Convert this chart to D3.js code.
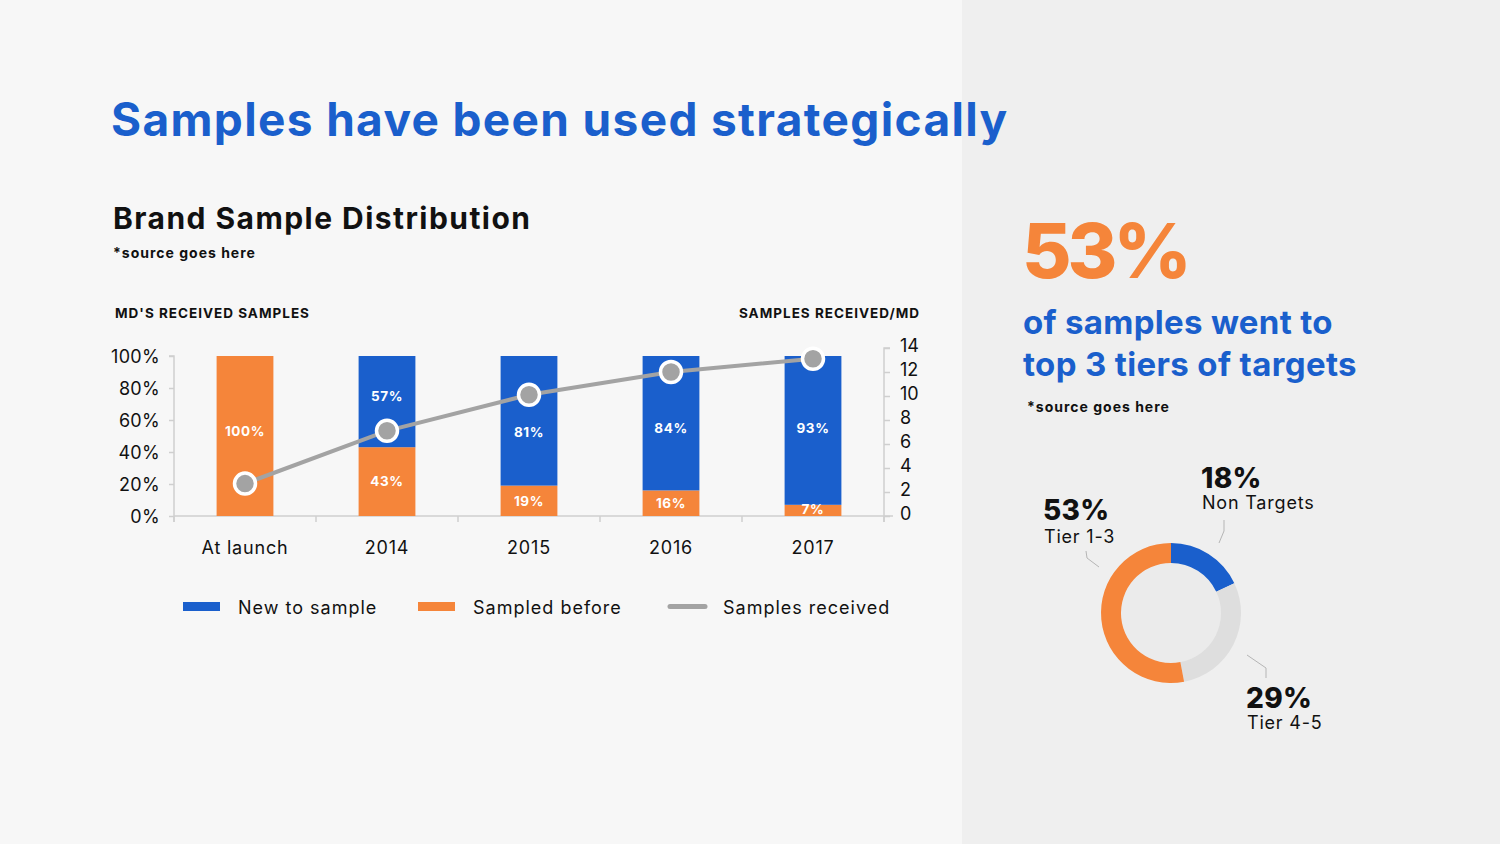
<!DOCTYPE html>
<html>
<head>
<meta charset="utf-8">
<script src="https://cdn.jsdelivr.net/npm/d3@7"></script>
<style>
  body { margin: 0; background: #f7f7f7; }
  svg { display: block; font-family: Inter, "Noto Sans", sans-serif; }
</style>
</head>
<body>
<script>
// chart data
const categories = ["At launch", "2014", "2015", "2016", "2017"];
const newToSample = [0, 57, 81, 84, 93];
const sampledBefore = [100, 43, 19, 16, 7];
const samplesReceived = [2.7, 7.1, 10.1, 12, 13.1];
const leftTicks = [0, 20, 40, 60, 80, 100];
const rightTicks = [0, 2, 4, 6, 8, 10, 12, 14];

const donutLabels = ["Non Targets", "Tier 4-5", "Tier 1-3"];
const donutValues = [18, 29, 53];

const blue = "#1a5fcc";
const orange = "#f5853a";
const gray = "#a3a3a3";

function main(){
    const width = 1500;
    const height = 844;

    const svg = d3.select("body").append("svg")
        .attr("width", width)
        .attr("height", height);

    // backgrounds
    svg.append("rect").attr("width", 962).attr("height", height).attr("fill", "#f7f7f7");
    svg.append("rect").attr("x", 962).attr("width", width - 962).attr("height", height).attr("fill", "#efefef");

    // headings
    svg.append("text")
        .attr("x", 111).attr("y", 136)
        .attr("font-size", "46px").attr("font-weight", 700)
        .attr("letter-spacing", "1.35px")
        .attr("fill", blue)
        .text("Samples have been used strategically");

    svg.append("text")
        .attr("x", 113).attr("y", 229)
        .attr("font-size", "30px").attr("font-weight", 700)
        .attr("letter-spacing", "1.45px")
        .attr("fill", "#111")
        .text("Brand Sample Distribution");

    svg.append("text")
        .attr("x", 113).attr("y", 258)
        .attr("font-size", "14px").attr("font-weight", 700)
        .attr("letter-spacing", "1px")
        .attr("fill", "#111")
        .text("*source goes here");

    svg.append("text")
        .attr("x", 115).attr("y", 318)
        .attr("font-size", "13.5px").attr("font-weight", 700)
        .attr("letter-spacing", "1px")
        .attr("fill", "#111")
        .text("MD'S RECEIVED SAMPLES");

    svg.append("text")
        .attr("x", 920).attr("y", 318)
        .attr("text-anchor", "end")
        .attr("font-size", "13.5px").attr("font-weight", 700)
        .attr("letter-spacing", "1px")
        .attr("fill", "#111")
        .text("SAMPLES RECEIVED/MD");

    // combo chart
    const x = d3.scaleBand().domain(categories).range([174, 884]).paddingInner(0.6).paddingOuter(0.3);
    const xEdges = d3.scaleLinear().domain([0, categories.length]).range([174, 884]);
    const yLeft = d3.scaleLinear().domain([0, 100]).range([516, 356]);
    const yRight = d3.scaleLinear().domain([0, 14]).range([516, 348]);

    const axisColor = "#cfcfcf";

    // bottom axis with boundary ticks
    const bottom = svg.append("g");
    bottom.append("line")
        .attr("x1", 174).attr("x2", 893).attr("y1", 516).attr("y2", 516)
        .attr("stroke", axisColor).attr("stroke-width", 1.5);
    bottom.selectAll("line.edge")
        .data(d3.range(0, categories.length + 1))
        .enter().append("line")
        .attr("class", "edge")
        .attr("x1", d => xEdges(d)).attr("x2", d => xEdges(d))
        .attr("y1", 516).attr("y2", 522)
        .attr("stroke", axisColor).attr("stroke-width", 1.5);
    bottom.selectAll("text")
        .data(categories)
        .enter().append("text")
        .attr("x", d => x(d) + x.bandwidth() / 2)
        .attr("y", 554)
        .attr("text-anchor", "middle")
        .attr("font-size", "18px")
        .attr("letter-spacing", "0.8px")
        .attr("fill", "#111")
        .text(d => d);

    // left axis
    const leftAxis = svg.append("g")
        .attr("transform", "translate(174,0)")
        .call(d3.axisLeft(yLeft).tickValues(leftTicks).tickSize(5).tickPadding(9).tickFormat(d => d + "%"));
    leftAxis.select(".domain").attr("stroke", axisColor).attr("stroke-width", 1.5)
        .attr("d", "M-5," + yLeft(100) + "H0V522");
    leftAxis.selectAll(".tick line").attr("stroke", axisColor).attr("stroke-width", 1.5);
    leftAxis.selectAll(".tick text")
        .attr("font-size", "18px").attr("font-family", "Inter, sans-serif")
        .attr("letter-spacing", "0.3px")
        .attr("fill", "#111").attr("dy", "0.38em");

    // right axis
    const rightAxis = svg.append("g")
        .attr("transform", "translate(884,0)")
        .call(d3.axisRight(yRight).tickValues(rightTicks).tickSize(6).tickPadding(10));
    rightAxis.select(".domain").attr("stroke", axisColor).attr("stroke-width", 1.5)
        .attr("d", "M6," + yRight(14) + "H0V522");
    rightAxis.selectAll(".tick line").attr("stroke", axisColor).attr("stroke-width", 1.5);
    rightAxis.selectAll(".tick text")
        .attr("font-size", "18px").attr("font-family", "Inter, sans-serif")
        .attr("fill", "#111").attr("dy", "0.2em");

    // stacked bars
    const rows = categories.map((c, i) => ({cat: c, before: sampledBefore[i], fresh: newToSample[i]}));
    const bars = svg.append("g");

    bars.selectAll("rect.before")
        .data(rows)
        .enter().append("rect")
        .attr("class", "before")
        .attr("x", d => x(d.cat)).attr("width", x.bandwidth())
        .attr("y", d => yLeft(d.before)).attr("height", d => yLeft(0) - yLeft(d.before))
        .attr("fill", orange);

    bars.selectAll("rect.fresh")
        .data(rows.filter(d => d.fresh > 0))
        .enter().append("rect")
        .attr("class", "fresh")
        .attr("x", d => x(d.cat)).attr("width", x.bandwidth())
        .attr("y", d => yLeft(d.before + d.fresh)).attr("height", d => yLeft(d.before) - yLeft(d.before + d.fresh))
        .attr("fill", blue);

    bars.selectAll("text.before")
        .data(rows)
        .enter().append("text")
        .attr("class", "before")
        .attr("x", d => x(d.cat) + x.bandwidth() / 2)
        .attr("y", d => d.before === 100 ? yLeft(53) : yLeft(d.before / 2) - (d.before < 10 ? 1.5 : 0))
        .attr("dy", "0.36em")
        .attr("text-anchor", "middle")
        .attr("font-size", "13.5px").attr("font-weight", 700)
        .attr("letter-spacing", "0.6px")
        .attr("fill", "#fff")
        .text(d => d.before + "%");

    bars.selectAll("text.fresh")
        .data(rows.filter(d => d.fresh > 0))
        .enter().append("text")
        .attr("class", "fresh")
        .attr("x", d => x(d.cat) + x.bandwidth() / 2)
        .attr("y", d => d.fresh < 70 ? yLeft(d.before + d.fresh / 2) - 5 : yLeft(55) + (d.fresh < 83 ? 4 : 0))
        .attr("dy", "0.36em")
        .attr("text-anchor", "middle")
        .attr("font-size", "13.5px").attr("font-weight", 700)
        .attr("letter-spacing", "0.6px")
        .attr("fill", "#fff")
        .text(d => d.fresh + "%");

    // samples received line
    const pts = categories.map((c, i) => ({cat: c, v: samplesReceived[i]}));
    svg.append("path")
        .datum(pts)
        .attr("d", d3.line().x(d => x(d.cat) + x.bandwidth() / 2).y(d => yRight(d.v)))
        .attr("fill", "none")
        .attr("stroke", gray)
        .attr("stroke-width", 4);

    svg.append("g").selectAll("circle")
        .data(pts)
        .enter().append("circle")
        .attr("cx", d => x(d.cat) + x.bandwidth() / 2)
        .attr("cy", d => yRight(d.v))
        .attr("r", 10.5)
        .attr("fill", gray)
        .attr("stroke", "#fff")
        .attr("stroke-width", 3.5);

    // legend
    const legend = svg.append("g");
    const legendItems = [
        {label: "New to sample", x: 183, type: "rect", color: blue},
        {label: "Sampled before", x: 418, type: "rect", color: orange},
        {label: "Samples received", x: 668, type: "line", color: gray}
    ];
    legendItems.forEach(item => {
        if (item.type === "rect") {
            legend.append("rect")
                .attr("x", item.x).attr("y", 602)
                .attr("width", 37).attr("height", 9)
                .attr("fill", item.color);
        } else {
            legend.append("line")
                .attr("x1", item.x + 2).attr("x2", item.x + 37)
                .attr("y1", 606.5).attr("y2", 606.5)
                .attr("stroke", item.color).attr("stroke-width", 5)
                .attr("stroke-linecap", "round");
        }
        legend.append("text")
            .attr("x", item.x + 55).attr("y", 614)
            .attr("font-size", "18px")
            .attr("letter-spacing", "1px")
            .attr("fill", "#111")
            .text(item.label);
    });

    // right panel
    svg.append("text")
        .attr("x", 1022).attr("y", 278)
        .attr("font-size", "76px").attr("font-weight", 800)
        .attr("letter-spacing", "-4px")
        .attr("fill", orange)
        .text("53%");

    svg.append("text")
        .attr("x", 1023).attr("y", 334)
        .attr("font-size", "33px").attr("font-weight", 700)
        .attr("letter-spacing", "0.3px")
        .attr("fill", blue)
        .text("of samples went to");

    svg.append("text")
        .attr("x", 1023).attr("y", 376)
        .attr("font-size", "33px").attr("font-weight", 700)
        .attr("letter-spacing", "0.35px")
        .attr("fill", blue)
        .text("top 3 tiers of targets");

    svg.append("text")
        .attr("x", 1027).attr("y", 412)
        .attr("font-size", "14px").attr("font-weight", 700)
        .attr("letter-spacing", "1px")
        .attr("fill", "#111")
        .text("*source goes here");

    // donut
    const donutColors = [blue, "#dedede", orange];
    const pie = d3.pie().sort(null).value(d => d)(donutValues);
    const arc = d3.arc().innerRadius(50).outerRadius(70);
    const donut = svg.append("g").attr("transform", "translate(1171,613)");
    donut.append("circle").attr("r", 50).attr("fill", "#ebebeb");
    donut.selectAll("path")
        .data(pie)
        .enter().append("path")
        .attr("d", arc)
        .attr("fill", (d, i) => donutColors[i]);

    // leader lines
    const leaders = [
        [[1219, 543], [1224, 531], [1224, 520]],
        [[1247, 655], [1266, 668], [1266, 678]],
        [[1099, 567], [1087, 558], [1086, 551]]
    ];
    svg.append("g").selectAll("path")
        .data(leaders)
        .enter().append("path")
        .attr("d", d3.line())
        .attr("fill", "none")
        .attr("stroke", "#b5b5b5")
        .attr("stroke-width", 1);

    const donutText = [
        {x: 1201, y: 488, yl: 509},
        {x: 1246, y: 708, yl: 729},
        {x: 1043, y: 520, yl: 543}
    ];
    donutText.forEach((p, i) => {
        svg.append("text")
            .attr("x", p.x).attr("y", p.y)
            .attr("font-size", "28px").attr("font-weight", 800)
            .attr("letter-spacing", "0.3px")
            .attr("fill", "#111")
            .text(donutValues[i] + "%");
        svg.append("text")
            .attr("x", p.x + 1).attr("y", p.yl)
            .attr("font-size", "18px")
            .attr("letter-spacing", "0.8px")
            .attr("fill", "#111")
            .text(donutLabels[i]);
    });
}

main();
</script>
</body>
</html>
